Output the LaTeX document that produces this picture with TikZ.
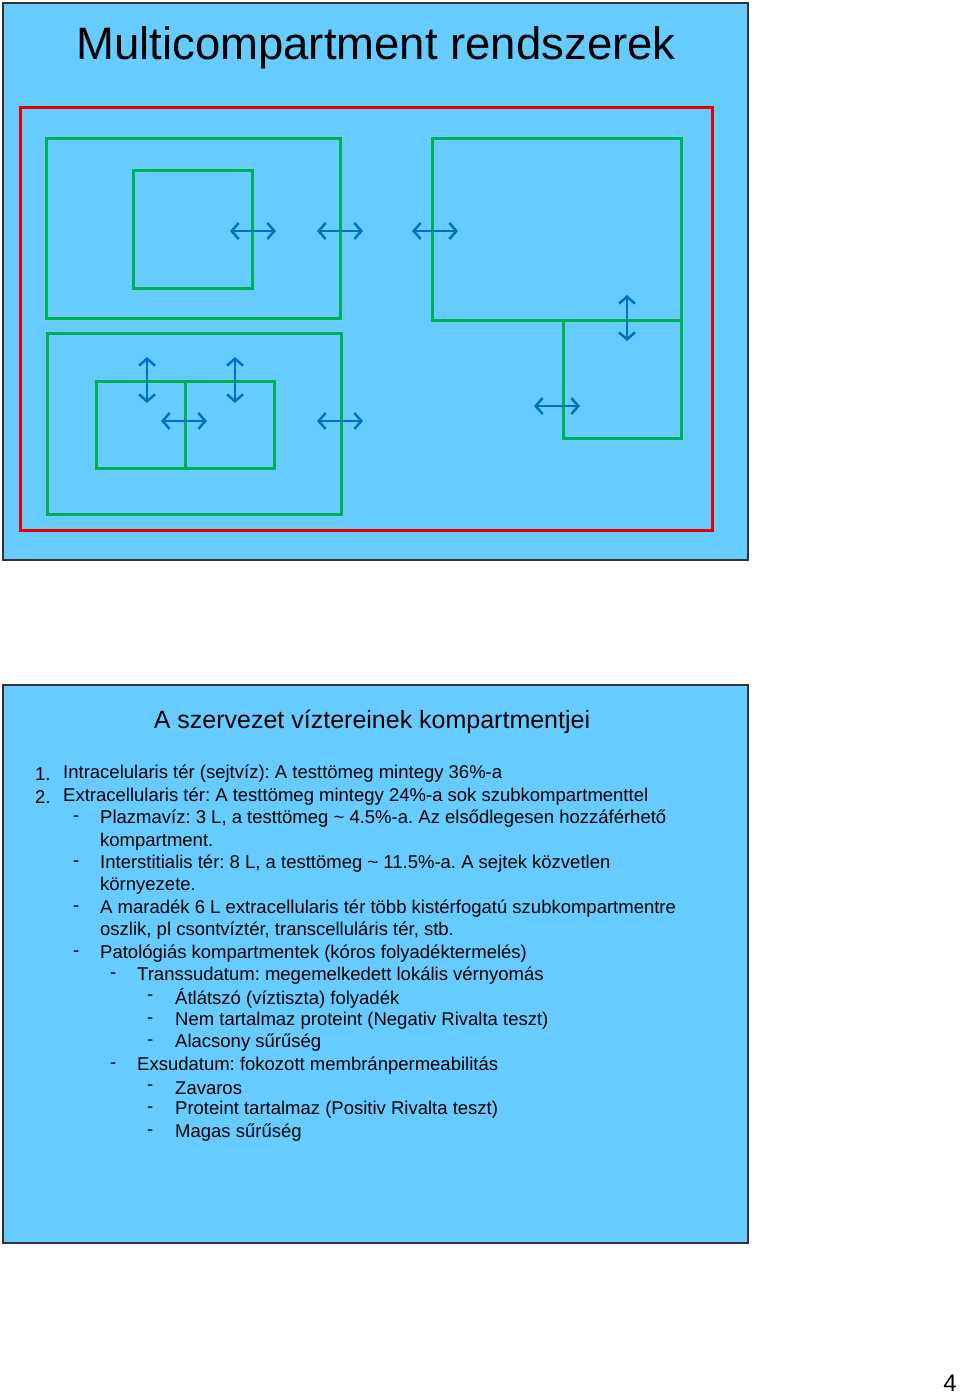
\documentclass[tikz,border=0pt]{standalone}
\usepackage{fontspec}
\setmainfont{Liberation Sans}
\frenchspacing
\usetikzlibrary{arrows.meta}
\definecolor{slideblue}{RGB}{102,204,255}
\definecolor{boxgreen}{RGB}{0,176,80}
\definecolor{arrowblue}{RGB}{0,112,192}
\tikzset{
  slide/.style={draw=black!80, line width=1.5pt, fill=slideblue},
  comp/.style={draw=boxgreen, line width=3pt},
  flux/.style={draw=arrowblue, line width=2.5pt, {Straight Barb[length=7pt,width=16pt]}-{Straight Barb[length=7pt,width=16pt]}},
  line/.style={anchor=west, inner sep=0pt, font=\fontsize{18.5}{22}\selectfont}
}
\begin{document}
\begin{tikzpicture}[x=1pt, y=-1pt]
    \useasboundingbox (0,0) rectangle (960,1395);
    % upper slide
    \draw[slide] (3,3) rectangle (748,560);
    \node[inner sep=0pt, font=\fontsize{45.5}{50}\selectfont] (title) at (376,48) {Multicompartment rendszerek};
    \draw[draw=red!90!black, line width=3pt] (20,107) rectangle (712,530);
    \draw[comp] (46,138) rectangle (340,318);
    \draw[comp] (133,170) rectangle (252,288);
    \draw[comp] (432,138) rectangle (681,320);
    \draw[comp] (563,320) rectangle (681,438);
    \draw[comp] (47,333) rectangle (341,514);
    \draw[comp] (96,381) rectangle (185,468);
    \draw[comp] (185,381) rectangle (274,468);
    \foreach \x/\y in {253/231, 340/231, 435/231, 184/421, 340/421, 557/406}
      \draw[flux] (\x-23,\y) -- (\x+23,\y);
    \foreach \x/\y in {147/380, 235/380, 627/318}
      \draw[flux] (\x,\y-23) -- (\x,\y+23);

    % lower slide
    \draw[slide] (3,685) rectangle (748,1243);
    \node[inner sep=0pt, font=\fontsize{25}{29}\selectfont] (subtitle) at (372,722) {A szervezet víztereinek kompartmentjei};
    \foreach \n/\y/\t in {1./774/{Intracelularis tér (sejtvíz): A testtömeg mintegy 36\%-a},
                          2./797/{Extracellularis tér: A testtömeg mintegy 24\%-a sok szubkompartmenttel}}{
      \node[line] at (35,\y) {\n};
      \node[line] at (63,\y) {\t};
    }
    \foreach \y/\t in {819/{Plazmavíz: 3 L, a testtömeg \textasciitilde{} 4.5\%-a. Az elsődlegesen hozzáférhető},
                       864/{Interstitialis tér: 8 L, a testtömeg \textasciitilde{} 11.5\%-a. A sejtek közvetlen},
                       909/{A maradék 6 L extracellularis tér több kistérfogatú szubkompartmentre},
                       954/{Patológiás kompartmentek (kóros folyadéktermelés)}}{
      \node[line] at (73,\y) {-};
      \node[line] at (100,\y) {\t};
    }
    \node[line] at (100,842) {kompartment.};
    \node[line] at (100,886) {környezete.};
    \node[line] at (100,931) {oszlik, pl csontvíztér, transcelluláris tér, stb.};
    \foreach \y/\t in {976/{Transsudatum: megemelkedett lokális vérnyomás},
                       1066/{Exsudatum: fokozott membránpermeabilitás}}{
      \node[line] at (110,\y) {-};
      \node[line] at (137,\y) {\t};
    }
    \foreach \y/\t in {998/{Átlátszó (víztiszta) folyadék},
                       1021/{Nem tartalmaz proteint (Negativ Rivalta teszt)},
                       1043/{Alacsony sűrűség},
                       1088/{Zavaros},
                       1110/{Proteint tartalmaz (Positiv Rivalta teszt)},
                       1133/{Magas sűrűség}}{
      \node[line] at (147,\y) {-};
      \node[line] at (175,\y) {\t};
    }
    \node[inner sep=0pt, font=\fontsize{24}{28}\selectfont] (page) at (950,1383) {4};
\end{tikzpicture}
\end{document}
